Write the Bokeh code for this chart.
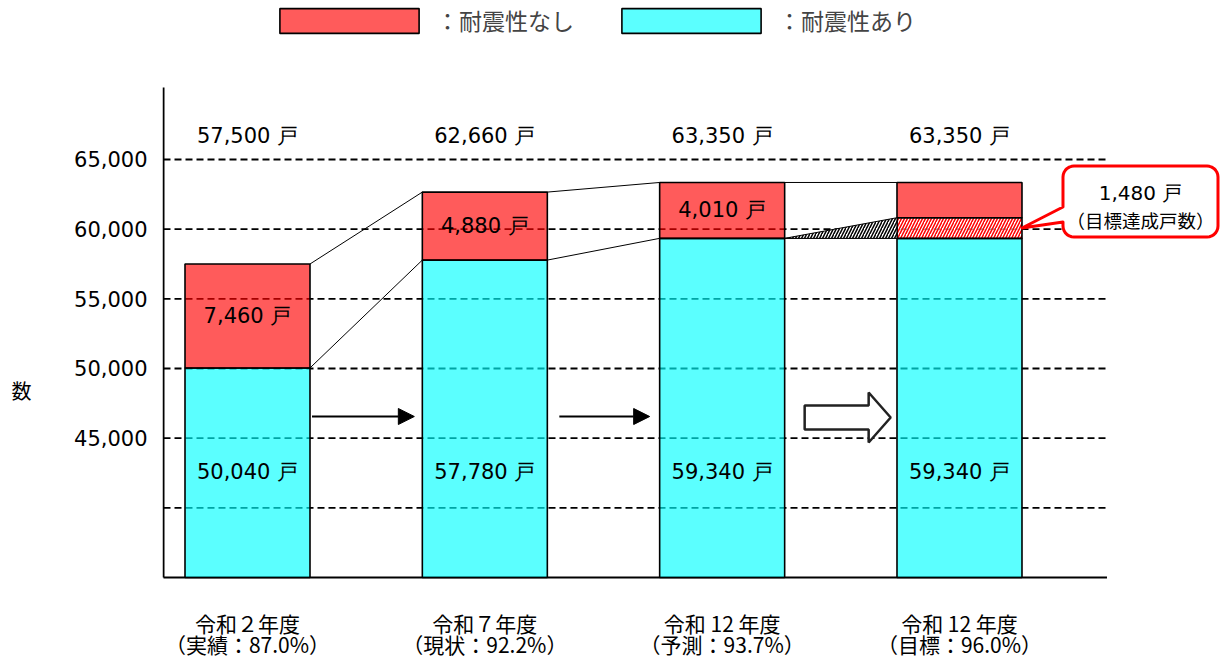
import numpy as np
from bokeh.plotting import figure
from bokeh.models import (Range1d, Legend, LegendItem, Arrow, NormalHead, LinearAxis,
                          FixedTicker, NumeralTickFormatter)
from bokeh.core.properties import value
from bokeh.embed import file_html
from bokeh.resources import INLINE

# ---------------- data ----------------
categories = ["令和２年度", "令和７年度", "令和 12 年度", "令和 12 年度"]
sublabels = ["（実績：87.0%）", "（現状：92.2%）", "（予測：93.7%）", "（目標：96.0%）"]
with_resist = [50040, 57780, 59340, 59340]       # 耐震性あり
without_resist = [7460, 4880, 4010, 4010]        # 耐震性なし
target_gain = [0, 0, 0, 1480]                    # 目標達成戸数
totals = [57500, 62660, 63350, 63350]
y_ticks = [45000, 50000, 55000, 60000, 65000]
grid_levels = [40000, 45000, 50000, 55000, 60000, 65000]
series_names = ["：耐震性なし", "：耐震性あり"]
y_title = "数"

JP = "Noto Sans CJK JP"
NUM = "DejaVu Sans"
RED = "#FF0000"
CYAN = "#00FFFF"
ALPHA = 0.645

# ---------------- geometry helpers ----------------
W, H = 1224, 659
LEFT = 162
PX = 237.33                # pixels per category step
UPP = 5000 / 69.67         # data units per pixel (y)
BASE = 35000
BASE_PX = 577              # canvas y of BASE
HW = 125 / PX / 2          # bar half width

def dx(px):
    return px / PX

def dy(px):
    return px * UPP

x0 = -dx(85)
x_range = Range1d(x0, x0 + dx(W - LEFT))
y_range = Range1d(BASE - dy(H - BASE_PX), BASE + dy(BASE_PX))

p = figure(width=W, height=H, x_range=x_range, y_range=y_range,
           output_backend="svg", toolbar_location=None, x_axis_location=None,
           min_border_left=LEFT, min_border_right=0, min_border_top=0, min_border_bottom=0)
p.grid.visible = False
p.outline_line_color = None
p.background_fill_color = "white"

no_ticks = dict(axis_line_color=None, major_tick_line_color=None, minor_tick_line_color=None,
                major_tick_out=0, major_tick_in=0, minor_tick_out=0, minor_tick_in=0)

yax = p.yaxis[0]
yax.ticker = FixedTicker(ticks=y_ticks)
yax.formatter = NumeralTickFormatter(format="0,0")
for k, v in no_ticks.items():
    setattr(yax, k, v)
yax.major_label_standoff = 15
yax.major_label_text_font = NUM
yax.major_label_text_font_size = "21px"
yax.major_label_text_color = "black"

# second left axis carrying the axis title "数"
title_y = BASE + dy(187)
tax = LinearAxis(ticker=FixedTicker(ticks=[title_y]), major_label_overrides={title_y: y_title},
                 major_label_standoff=40, major_label_text_font=JP,
                 major_label_text_font_size="20px", major_label_text_color="black", **no_ticks)
p.add_layout(tax, "left")

idx = list(range(len(categories)))
axis_x = x0 + dx(1)
grid_right = idx[-1] + HW + dx(85)

# dashed grid lines (under bars)
n = len(grid_levels)
p.segment(x0=[axis_x] * n, y0=grid_levels, x1=[grid_right] * n, y1=grid_levels,
          line_color="black", line_width=1.8, line_dash="7 4")

# axes lines
p.segment(x0=[axis_x], y0=[BASE], x1=[axis_x], y1=[BASE + dy(490)], line_color="black", line_width=2)
p.segment(x0=[axis_x], y0=[BASE], x1=[grid_right], y1=[BASE], line_color="black", line_width=2)

# bars
tops_gain = [w + g for w, g in zip(with_resist, target_gain)]
cyan_r = p.vbar(x=idx, bottom=BASE, top=with_resist, width=2 * HW,
                fill_color=CYAN, fill_alpha=ALPHA, line_color="black", line_width=1.6)
gi = [i for i in idx if target_gain[i] > 0]
p.vbar(x=gi, bottom=[with_resist[i] for i in gi], top=[tops_gain[i] for i in gi], width=2 * HW,
       fill_color="white", fill_alpha=ALPHA, hatch_pattern="/", hatch_color=RED,
       hatch_scale=6, hatch_weight=1.5, line_color="black", line_width=1.6)
red_r = p.vbar(x=idx, bottom=tops_gain, top=totals, width=2 * HW,
               fill_color=RED, fill_alpha=ALPHA, line_color="black", line_width=1.6)

# connectors between bars
cx0, cy0, cx1, cy1 = [], [], [], []
for i in range(len(idx) - 1):
    cx0 += [i + HW, i + HW]
    cx1 += [i + 1 - HW, i + 1 - HW]
    cy0 += [totals[i], with_resist[i]]
    cy1 += [totals[i + 1], with_resist[i + 1]]
p.segment(x0=cx0, y0=cy0, x1=cx1, y1=cy1, line_color="black", line_width=1)

# hatched wedge between bar 3 and bar 4
j = gi[0]
p.patch(x=[j - 1 + HW, j - HW, j - HW], y=[with_resist[j - 1], tops_gain[j], with_resist[j]],
        fill_color="white", hatch_pattern="/", hatch_color="black", hatch_scale=6,
        hatch_weight=1.5, line_color="black", line_width=1)

# value labels
txt = dict(text_align="center", text_baseline="middle", text_color="black")
p.text(x=idx, y=[BASE + dy(442)] * 4, text=[f"{t:,} 戸" for t in totals],
       text_font=value(NUM), text_font_size="21px", **txt)
ri = [i for i in idx if target_gain[i] == 0]
p.text(x=ri, y=[with_resist[i] + without_resist[i] / 2 for i in ri],
       text=[f"{without_resist[i]:,} 戸" for i in ri], text_font=value(NUM), text_font_size="21px", **txt)
p.text(x=idx, y=[BASE + dy(106)] * 4, text=[f"{w:,} 戸" for w in with_resist],
       text_font=value(NUM), text_font_size="21px", **txt)

# category labels
p.text(x=idx, y=[BASE - dy(45)] * 4, text=categories, text_font=value(JP), text_font_size="21px", **txt)
p.text(x=idx, y=[BASE - dy(66)] * 4, text=sublabels, text_font=value(JP), text_font_size="21px", **txt)

# arrows
ya = BASE + dy(161)
for s, e in [(0 + HW + dx(2), 1 - HW - dx(8)), (1 + HW + dx(12), 2 - HW - dx(10))]:
    p.add_layout(Arrow(x_start=s, y_start=ya, x_end=e, y_end=ya, line_width=2, line_color="black",
                       end=NormalHead(size=16, fill_color="black", line_color="black")))

# block arrow
bs = 2 + HW + dx(20)
yb = BASE + dy(160)
bx = [0, 64, 64, 86, 64, 64, 0]
by = [12, 12, 25, 0, -25, -12, -12]
p.patch(x=[bs + dx(v) for v in bx], y=[yb + dy(v) for v in by],
        fill_color="white", line_color="#222222", line_width=2.5)

# callout
tx, ty = j + HW, with_resist[j] + target_gain[j] / 2
L, R, T, B, r = 41, 196, -62, 9, 11
pts = [(L, -21)]
def arc(cx, cy, a0, a1):
    return [(cx + r * np.cos(a), cy + r * np.sin(a)) for a in np.linspace(a0, a1, 8)]
pts += arc(L + r, T + r, np.pi, 1.5 * np.pi)
pts += arc(R - r, T + r, 1.5 * np.pi, 2 * np.pi)
pts += arc(R - r, B - r, 0, 0.5 * np.pi)
pts += arc(L + r, B - r, 0.5 * np.pi, np.pi)
pts += [(L, -6), (0, 0)]
p.patch(x=[tx + dx(a) for a, b in pts], y=[ty - dy(b) for a, b in pts],
        fill_color="white", line_color=RED, line_width=3, line_join="round")
ccx = tx + dx((L + R) / 2)
p.text(x=[ccx], y=[ty - dy(-35)], text=[f"{target_gain[j]:,} 戸"],
       text_font=value(NUM), text_font_size="20px", **txt)
p.text(x=[ccx], y=[ty - dy(-8)], text=["（目標達成戸数）"],
       text_font=value(JP), text_font_size="18.5px", **txt)

# legend
legend = Legend(items=[LegendItem(label=series_names[0], renderers=[red_r]),
                       LegendItem(label=series_names[1], renderers=[cyan_r])],
                orientation="horizontal", location=(100, 622), glyph_width=174, glyph_height=31,
                label_standoff=0, spacing=30, padding=0, margin=0, border_line_color=None,
                background_fill_alpha=0, label_text_font=JP, label_text_font_size="23px",
                label_height=31)
p.add_layout(legend, "center")

open("out.html", "w").write(file_html(p, INLINE))
